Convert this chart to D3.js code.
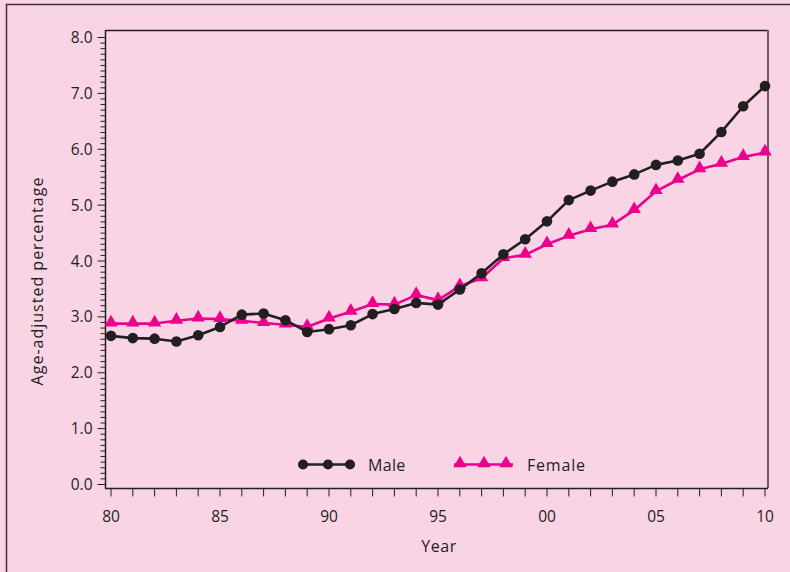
<!DOCTYPE html>
<html><head><meta charset="utf-8">
<script src="https://cdn.jsdelivr.net/npm/d3@7"></script>
<style>
html,body{margin:0;padding:0;background:#f9d4e4;}
svg{display:block;font-family:"Open Sans","Noto Sans",sans-serif;}
</style></head>
<body>
<svg id="c" width="790" height="572"></svg>
<script>
const years = d3.range(1980, 2011);
const yearLabels = ["80","85","90","95","00","05","10"];
const maleValues = [2.66,2.62,2.61,2.56,2.67,2.82,3.04,3.06,2.94,2.73,2.78,2.85,3.05,3.14,3.25,3.22,
  3.49,3.78,4.12,4.39,4.71,5.09,5.26,5.42,5.55,5.72,5.80,5.92,6.31,6.77,7.13];
const femaleValues = [2.88,2.88,2.88,2.93,2.97,2.96,2.93,2.89,2.86,2.82,2.97,3.09,3.23,3.22,3.39,3.30,
  3.55,3.69,4.05,4.11,4.30,4.45,4.57,4.65,4.91,5.25,5.45,5.64,5.74,5.86,5.94];
const yTicks = [0,1,2,3,4,5,6,7,8];
const seriesNames = ["Male","Female"];

const svg = d3.select("#c");
const ink = "#231f20", pink = "#ec008c";

// outer frame
svg.append("rect").attr("x",6.5).attr("y",4.5).attr("width",800).attr("height",600)
  .attr("fill","#f9d4e4").attr("stroke","#3a3536").attr("stroke-width",1.5);

const x = d3.scaleLinear().domain([1980,2010]).range([111,765]);
const y = d3.scaleLinear().domain([0,8]).range([484.5,37.5]);

// plot box top and right
svg.append("line").attr("x1",105.5).attr("x2",768).attr("y1",30.5).attr("y2",30.5)
  .attr("stroke",ink).attr("stroke-width",1.5);
svg.append("line").attr("x1",768).attr("x2",768).attr("y1",30).attr("y2",488)
  .attr("stroke","#6b5a60").attr("stroke-width",2);

// y axis
const yAxisG = svg.append("g").attr("transform","translate(105.5,0)");
yAxisG.append("line").attr("x1",0).attr("x2",0).attr("y1",30).attr("y2",488.5)
  .attr("stroke",ink).attr("stroke-width",1.5);
const minor = d3.range(0,80).map(i=>i/10).filter(v=>Math.abs(v-Math.round(v))>1e-6);
yAxisG.selectAll("line.minor").data(minor).join("line").attr("class","minor")
  .attr("x1",-5).attr("x2",0).attr("y1",d=>y(d)).attr("y2",d=>y(d))
  .attr("stroke",ink).attr("stroke-width",1);
yAxisG.selectAll("line.major").data(yTicks).join("line").attr("class","major")
  .attr("x1",-8).attr("x2",0).attr("y1",d=>y(d)).attr("y2",d=>y(d))
  .attr("stroke",ink).attr("stroke-width",1);
yAxisG.selectAll("text").data(yTicks).join("text")
  .attr("x",-13).attr("y",d=>y(d)).attr("dy","0.36em").attr("text-anchor","end")
  .attr("font-size",15.5).attr("fill",ink).text(d=>d.toFixed(1));

// x axis
const xAxisG = svg.append("g").attr("transform","translate(0,488.5)");
xAxisG.append("line").attr("x1",105).attr("x2",768).attr("y1",0).attr("y2",0)
  .attr("stroke",ink).attr("stroke-width",1.5);
xAxisG.selectAll("line.t").data(years).join("line").attr("class","t")
  .attr("x1",d=>x(d)).attr("x2",d=>x(d)).attr("y1",0).attr("y2",8)
  .attr("stroke",ink).attr("stroke-width",1);
const labelYears = d3.range(1980,2011,5);
xAxisG.selectAll("text").data(labelYears).join("text")
  .attr("x",d=>x(d)).attr("y",33.5).attr("text-anchor","middle")
  .attr("font-size",15.5).attr("fill",ink).text((d,i)=>yearLabels[i]);

// axis titles
svg.append("text").attr("x",439).attr("y",551.5).attr("text-anchor","middle")
  .attr("font-size",16).attr("letter-spacing",0.5).attr("fill",ink).text("Year");
svg.append("text").attr("transform","translate(43,281) rotate(-90)").attr("text-anchor","middle")
  .attr("font-size",16).attr("letter-spacing",1).attr("fill",ink).text("Age-adjusted percentage");

const line = d3.line().x((d,i)=>x(years[i])).y(d=>y(d));
const tri = d3.symbol().type(d3.symbolTriangle).size(78);

// female
svg.append("path").attr("d",line(femaleValues)).attr("fill","none")
  .attr("stroke",pink).attr("stroke-width",2.6).attr("stroke-linejoin","round");
svg.selectAll("path.ftri").data(femaleValues).join("path").attr("class","ftri")
  .attr("d",tri).attr("transform",(d,i)=>`translate(${x(years[i])},${y(d)-1})`).attr("fill",pink);

// male
svg.append("path").attr("d",line(maleValues)).attr("fill","none")
  .attr("stroke",ink).attr("stroke-width",2.6).attr("stroke-linejoin","round");
svg.selectAll("circle.m").data(maleValues).join("circle").attr("class","m")
  .attr("cx",(d,i)=>x(years[i])).attr("cy",d=>y(d)).attr("r",5.3).attr("fill",ink);

// legend
const lg = svg.append("g");
lg.append("line").attr("x1",303).attr("x2",355).attr("y1",464.5).attr("y2",464.5)
  .attr("stroke",ink).attr("stroke-width",2.6);
lg.selectAll("circle").data([303,328,350]).join("circle")
  .attr("cx",d=>d).attr("cy",464.5).attr("r",5).attr("fill",ink);
lg.append("text").attr("x",368).attr("y",470.5).attr("font-size",16).attr("letter-spacing",0.3)
  .attr("fill",ink).text(seriesNames[0]);
lg.append("line").attr("x1",454).attr("x2",513).attr("y1",464.5).attr("y2",464.5)
  .attr("stroke",pink).attr("stroke-width",2.6);
lg.selectAll("path").data([460,484,506]).join("path")
  .attr("d",tri).attr("transform",d=>`translate(${d},463.5)`).attr("fill",pink);
lg.append("text").attr("x",527).attr("y",470.5).attr("font-size",16).attr("letter-spacing",0.8)
  .attr("fill",ink).text(seriesNames[1]);
</script>
</body></html>
